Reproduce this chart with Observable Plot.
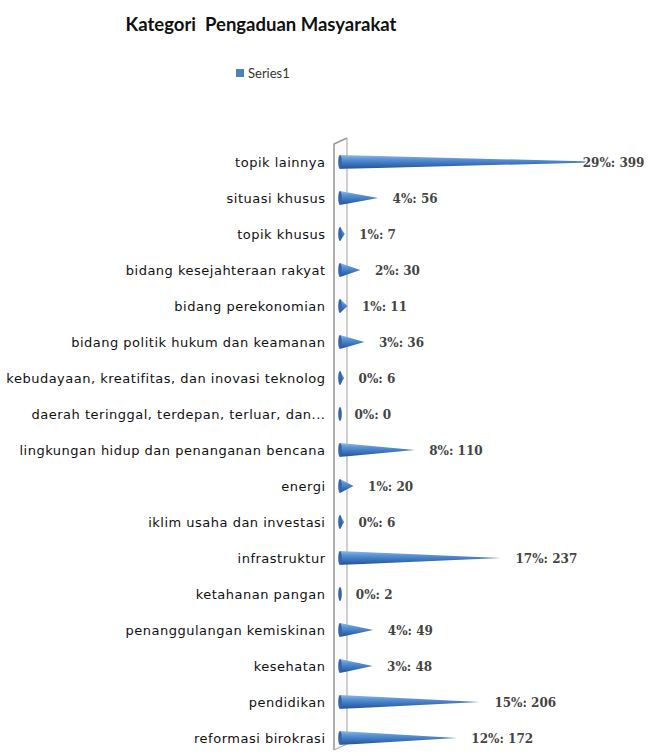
<!DOCTYPE html>
<html><head><meta charset="utf-8">
<script src="https://cdn.jsdelivr.net/npm/d3@7"></script>
<script src="https://cdn.jsdelivr.net/npm/@observablehq/plot@0.6"></script>
<style>
body{margin:0;background:#fff;width:649px;height:753px;position:relative;overflow:hidden;font-family:"DejaVu Sans",sans-serif}
#title{position:absolute;left:0;top:13px;width:522px;text-align:center;font:bold 18.5px Lato,sans-serif;color:#111}
#legend{position:absolute;left:236px;top:65px;font:13px Lato,sans-serif;color:#333;display:flex;align-items:center}
#legend .sw{width:8px;height:8px;background:#4f81bd;margin-right:4px}
#chart{position:absolute;left:0;top:100px}
#chart svg g[aria-label="y-axis tick label"] text{letter-spacing:0.5px}
</style></head>
<body>
<div id="title">Kategori&nbsp; Pengaduan Masyarakat</div>
<div id="legend"><span class="sw"></span><span>Series1</span></div>
<div id="chart"></div>
<script>
const categories = [
  "topik lainnya",
  "situasi khusus",
  "topik khusus",
  "bidang kesejahteraan rakyat",
  "bidang perekonomian",
  "bidang politik hukum dan keamanan",
  "kebudayaan, kreatifitas, dan inovasi teknolog",
  "daerah teringgal, terdepan, terluar, dan...",
  "lingkungan hidup dan penanganan bencana",
  "energi",
  "iklim usaha dan investasi",
  "infrastruktur",
  "ketahanan pangan",
  "penanggulangan kemiskinan",
  "kesehatan",
  "pendidikan",
  "reformasi birokrasi"
];
const values = [399, 56, 7, 30, 11, 36, 6, 0, 110, 20, 6, 237, 2, 49, 48, 206, 172];
const percents = [29, 4, 1, 2, 1, 3, 0, 0, 8, 1, 0, 17, 0, 4, 3, 15, 12];

const data = categories.map((c, i) => ({category: c, value: values[i], pct: percents[i]}));

// 3D back wall (decoration positioned from the scales)
const wall = (index, scales) => {
  const x0 = scales.x(0);
  const yTop = scales.y(categories[0]) - 24;
  const yBot = scales.y(categories[categories.length - 1]) + 12;
  const g = d3.create("svg:g");
  const l = x0 - 6, r = x0 + 7;
  g.append("path")
    .attr("d", `M${l},${yTop + 6} L${r},${yTop} L${r},${yBot - 6} L${l},${yBot} Z`)
    .attr("fill", "#fbfbfb").attr("stroke", "none");
  g.append("path").attr("d", `M${l},${yBot} L${l},${yTop + 6} L${r},${yTop}`)
    .attr("fill", "none").attr("stroke", "#9a9a9a").attr("stroke-width", 1.6);
  g.append("path").attr("d", `M${r},${yTop} L${r},${yBot - 6} L${l},${yBot}`)
    .attr("fill", "none").attr("stroke", "#b0b0b0").attr("stroke-width", 1.2);
  return g.node();
};

// horizontal cones
const cones = (index, scales) => {
  const g = d3.create("svg:g");
  const defs = g.append("defs");
  const grad = defs.append("linearGradient").attr("id", "coneGrad")
    .attr("x1", 0).attr("y1", 0).attr("x2", 0).attr("y2", 1);
  [[0, "#8dbbee"], [0.3, "#5b93d6"], [0.65, "#3a72bb"], [0.9, "#2a5a9c"], [1, "#4d7fbf"]]
    .forEach(([o, c]) => grad.append("stop").attr("offset", o).attr("stop-color", c));
  const x0 = scales.x(0);
  const h = 7;
  for (const d of data) {
    const y = scales.y(d.category);
    const xv = scales.x(d.value);
    if (xv > x0 + 0.5) {
      g.append("path")
        .attr("d", `M${x0},${y - h} L${xv},${y} L${x0},${y + h} Z`)
        .attr("fill", "url(#coneGrad)");
    }
    g.append("ellipse").attr("cx", x0).attr("cy", y).attr("rx", 1.8).attr("ry", h)
      .attr("fill", "#3565a6");
  }
  return g.node();
};

const chart = Plot.plot({
  width: 649,
  height: 653,
  marginLeft: 340,
  marginRight: 38,
  marginTop: 60,
  marginBottom: 13,
  style: {background: "white", color: "#111"},
  x: {domain: [0, d3.max(values)], axis: null},
  y: {type: "point", domain: categories, padding: 0},
  marks: [
    wall,
    cones,
    Plot.axisY({tickSize: 0, tickPadding: 15, label: null, fontSize: 13, fontFamily: "DejaVu Sans", fill: "#111"}),
    Plot.text(data, {
      x: d => Math.min(d.value, 336),
      y: "category",
      text: d => `${d.pct}%: ${d.value}`,
      textAnchor: "start",
      dx: 14,
      dy: 1,
      fontFamily: "DejaVu Serif",
      fontWeight: "bold",
      fontSize: 12,
      fill: "#444",
      stroke: "white",
      strokeWidth: 3
    })
  ]
});
document.getElementById("chart").appendChild(chart);
</script>
</body></html>
